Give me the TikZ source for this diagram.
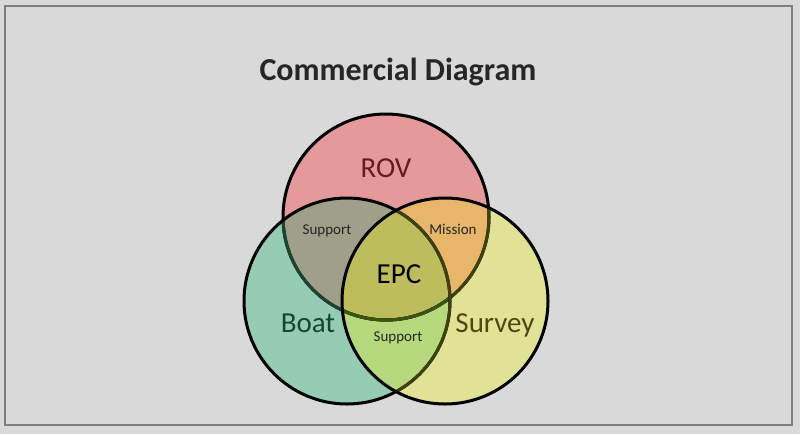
\documentclass[tikz,border=0pt]{standalone}
\usepackage{fontspec}
\setmainfont{Carlito}
\usetikzlibrary{positioning}

\definecolor{bggray}{HTML}{D9D9D9}
\definecolor{framegray}{HTML}{7F7F7F}
\definecolor{titlegray}{HTML}{262626}
\definecolor{rovfill}{HTML}{E4999A}
\definecolor{boatfill}{HTML}{96CCB3}
\definecolor{surveyfill}{HTML}{E2E296}
\definecolor{rbfill}{HTML}{A09F8A}
\definecolor{rsfill}{HTML}{E8B66B}
\definecolor{bsfill}{HTML}{B5D97C}
\definecolor{allfill}{HTML}{BDBD5E}
\definecolor{rovtext}{HTML}{6B1A1A}
\definecolor{boattext}{HTML}{0E4A33}
\definecolor{surveytext}{HTML}{4A4A10}
\definecolor{lineb}{HTML}{1C4432}
\definecolor{lines}{HTML}{3F4010}
\definecolor{linebs}{HTML}{3A5512}

\newcommand{\rad}{103pt}

\begin{document}
\begin{tikzpicture}[x=1pt,y=-1pt,
    ring/.style={line width=3pt},
    setlabel/.style={anchor=base,font=\fontsize{29}{31}\selectfont},
    small/.style={anchor=base,font=\fontsize{15}{17}\selectfont,text=black!85}]
    \fill[bggray] (0,0) rectangle (800,434);
    \useasboundingbox (0,0) rectangle (800,434);
    \draw[framegray,line width=1.5pt] (5,6) rectangle (792,425);

    \coordinate (rov) at (386,217);
    \coordinate (boat) at (347,301);
    \coordinate (survey) at (445,301);

    % sets
    \fill[rovfill] (rov) circle[radius=\rad];
    \fill[boatfill] (boat) circle[radius=\rad];
    \fill[surveyfill] (survey) circle[radius=\rad];

    % overlaps
    \begin{scope}
        \clip (rov) circle[radius=\rad];
        \fill[rbfill] (boat) circle[radius=\rad];
        \fill[rsfill] (survey) circle[radius=\rad];
    \end{scope}
    \begin{scope}
        \clip (boat) circle[radius=\rad];
        \fill[bsfill] (survey) circle[radius=\rad];
    \end{scope}
    \begin{scope}
        \clip (rov) circle[radius=\rad];
        \clip (boat) circle[radius=\rad];
        \fill[allfill] (survey) circle[radius=\rad];
    \end{scope}

    % outlines
    \draw[ring] (rov) circle[radius=\rad];
    \begin{scope}
        \clip (boat) circle[radius=\rad];
        \draw[ring,lineb] (rov) circle[radius=\rad];
    \end{scope}
    \begin{scope}
        \clip (survey) circle[radius=\rad];
        \draw[ring,lines] (rov) circle[radius=\rad];
    \end{scope}
    \begin{scope}
        \clip (boat) circle[radius=\rad];
        \clip (survey) circle[radius=\rad];
        \draw[ring,linebs] (rov) circle[radius=\rad];
    \end{scope}
    \draw[ring] (boat) circle[radius=\rad];
    \begin{scope}
        \clip (survey) circle[radius=\rad];
        \draw[ring,lines] (boat) circle[radius=\rad];
    \end{scope}
    \draw[ring] (survey) circle[radius=\rad];

    % labels
    \node[anchor=base,font=\bfseries\fontsize{32}{34}\selectfont,text=titlegray] (title) at (398,80) {Commercial Diagram};
    \node[setlabel,text=rovtext] (rovlabel) at (386,177) {ROV};
    \node[setlabel,text=boattext] (boatlabel) at (308,332) {Boat};
    \node[setlabel,text=surveytext] (surveylabel) at (495,332) {Survey};
    \node[setlabel,text=black] (epc) at (399,283) {EPC};
    \node[small] (support1) at (327,234) {Support};
    \node[small] (mission) at (453,234) {Mission};
    \node[small] (support2) at (398,341) {Support};
\end{tikzpicture}
\end{document}
